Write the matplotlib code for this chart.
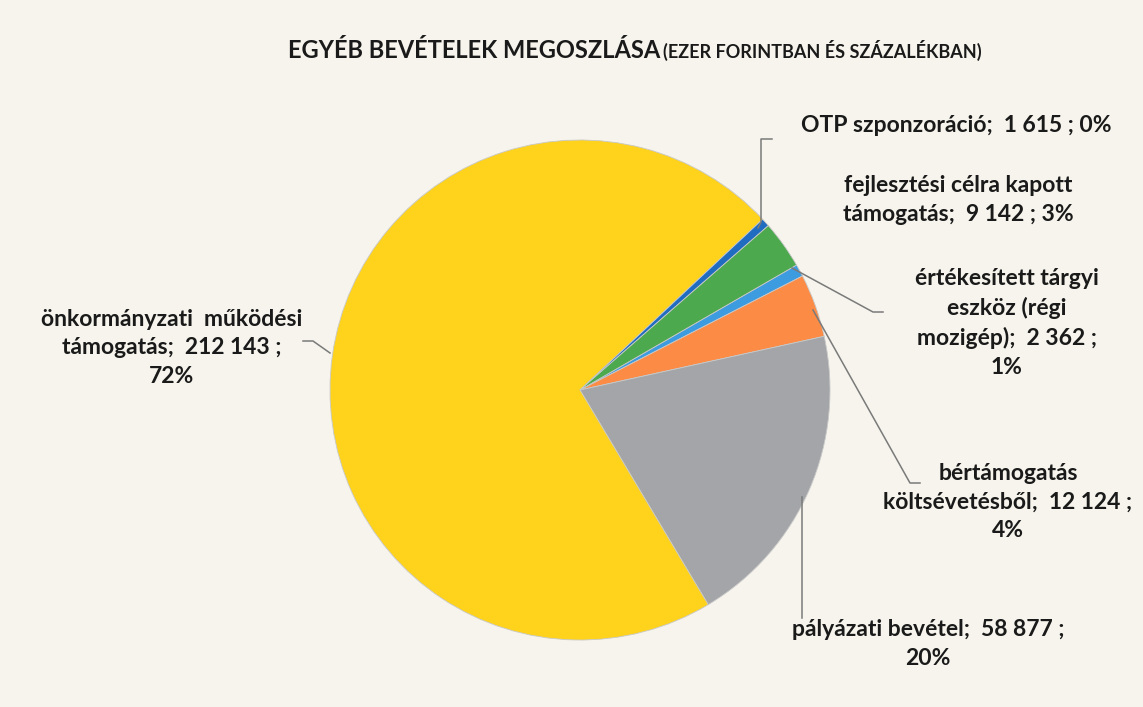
import matplotlib.pyplot as plt

plt.rcParams['font.family'] = ['Lato', 'DejaVu Sans']

# data (ezer Ft), in Excel series order
labels = ['értékesített tárgyi eszköz (régi mozigép)', 'bértámogatás költsévetésből',
          'pályázati bevétel', 'önkormányzati működési támogatás',
          'OTP szponzoráció', 'fejlesztési célra kapott támogatás']
values = [2362, 12124, 58877, 212143, 1615, 9142]
percents = ['1%', '4%', '20%', '72%', '0%', '3%']
value_txt = ['2 362', '12 124', '58 877', '212 143', '1 615', '9 142']
colors = ['#3d9be0', '#fb8b45', '#a3a5a8', '#ffd21c', '#1f6cc0', '#4ca94e']

W, H = 1143, 707
fig = plt.figure(figsize=(W / 100, H / 100), dpi=100)
fig.patch.set_facecolor('#f6f4ec')
ax = fig.add_axes([0, 0, 1, 1])
ax.pie(values, colors=colors, startangle=30, counterclock=False,
       radius=250, center=(580, H - 390),
       wedgeprops=dict(linewidth=0.6, edgecolor='#c9c9c9'))
ax.set_xlim(0, W)
ax.set_ylim(0, H)
ax.set_aspect('equal')
ax.axis('off')

# title
ax.text(660, H - 58, 'EGYÉB BEVÉTELEK MEGOSZLÁSA', ha='right', va='baseline',
        fontsize=17, fontweight='bold', color='#1a1a1a')
ax.text(663, H - 58, '(EZER FORINTBAN ÉS SZÁZALÉKBAN)', ha='left', va='baseline',
        fontsize=13, fontweight='bold', color='#1a1a1a')

lab = dict(fontsize=16.5, fontweight='bold', color='#1a1a1a', ha='center',
           va='center', linespacing=1.45)
line = dict(color='#7a7a7a', lw=1.1)

# OTP
ax.text(956, H - 126, f'OTP szponzoráció;  {value_txt[4]} ; {percents[4]}', **lab)
ax.plot([758, 761, 761, 772], [H - 228, H - 222, H - 139, H - 139], **line)
# fejlesztési
ax.text(958, H - 200, f'fejlesztési célra kapott\ntámogatás;  {value_txt[5]} ; {percents[5]}', **lab)
# értékesített
ax.text(1007, H - 323, f'értékesített tárgyi\neszköz (régi\nmozigép);  {value_txt[0]} ;\n{percents[0]}', **lab)
ax.plot([792, 873, 883], [H - 268, H - 312, H - 312], **line)
# bértámogatás
ax.text(1008, H - 502, f'bértámogatás\nköltsévetésből;  {value_txt[1]} ;\n{percents[1]}', **lab)
ax.plot([813, 910, 920], [H - 310, H - 483, H - 483], **line)
# pályázati
ax.text(928, H - 644, f'pályázati bevétel;  {value_txt[2]} ;\n{percents[2]}', **lab)
ax.plot([802, 802], [H - 497, H - 618], **line)
# önkormányzati
ax.text(172, H - 348, f'önkormányzati  működési\ntámogatás;  {value_txt[3]} ;\n{percents[3]}', **lab)
ax.plot([303, 313, 330], [H - 341, H - 341, H - 353], **line)

fig.savefig('out.png', dpi=100, facecolor=fig.get_facecolor())
